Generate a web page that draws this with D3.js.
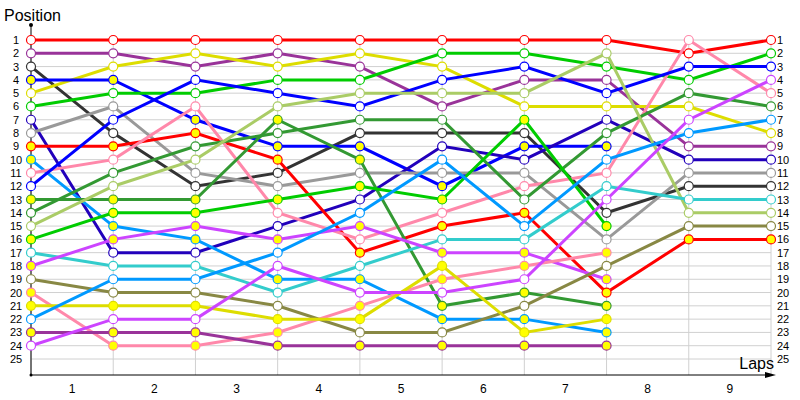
<!DOCTYPE html>
<html>
<head>
<meta charset="utf-8">
<script src="https://cdn.jsdelivr.net/npm/d3@7"></script>
<style>
  body { margin: 0; background: #fff; }
  text { font-family: "Liberation Sans", Arial, sans-serif; }
</style>
</head>
<body>
<div id="chart"></div>
<script>
const width = 800;
const height = 400;

// laps 0..9, positions per lap (null = retired)
const laps = [0, 1, 2, 3, 4, 5, 6, 7, 8, 9];
const lapLabels = ['1', '2', '3', '4', '5', '6', '7', '8', '9'];
const positions = d3.range(1, 26);

// each driver: colour, marker fill, positions by lap
const seriesColors = [
    '#ff0000', '#993399', '#333333', '#dddd00', '#0000ff', '#00cc00', '#2200bb', '#999999',
    '#ff0000', '#0099ff', '#ff88aa', '#0000ff', '#339933', '#339933', '#aacc66', '#00cc00',
    '#33cccc', '#cc44ff', '#888844', '#ff88aa', '#dddd00', '#0099ff', '#993399', '#cc44ff'
];
const seriesFills = [
    'w', 'w', 'w', 'w', 'y', 'w', 'w', 'w',
    'y', 'y', 'w', 'w', 'y', 'w', 'w', 'y',
    'w', 'y', 'w', 'y', 'y', 'w', 'y', 'w'
];
const seriesPositions = [
    [1, 1, 1, 1, 1, 1, 1, 1, 2, 1],
    [2, 2, 3, 2, 3, 6, 4, 4, 9, 9],
    [3, 8, 12, 11, 8, 8, 8, 14, 12, 12],
    [5, 3, 2, 3, 2, 3, 6, 6, 6, 8],
    [4, 4, 7, 9, 9, 12, 9, 9],
    [6, 5, 5, 4, 4, 2, 2, 3, 4, 2],
    [7, 17, 17, 15, 13, 9, 10, 7, 10, 10],
    [8, 6, 11, 12, 11, 11, 11, 16, 11, 11],
    [9, 9, 8, 10, 17, 15, 14, 20, 16, 16],
    [10, 15, 16, 19, 19, 22, 22, 23],
    [11, 10, 6, 14, 16, 14, 12, 11, 1, 5],
    [12, 7, 4, 5, 6, 4, 3, 5, 3, 3],
    [13, 13, 13, 7, 10, 21, 20, 21],
    [14, 11, 9, 8, 7, 7, 13, 8, 5, 6],
    [15, 12, 10, 6, 5, 5, 5, 2, 14, 14],
    [16, 14, 14, 13, 12, 13, 7, 15],
    [17, 18, 18, 20, 18, 16, 16, 12, 13, 13],
    [18, 16, 15, 16, 15, 17, 17, 19],
    [19, 20, 20, 21, 23, 23, 21, 18, 15, 15],
    [20, 24, 24, 23, 21, 19, 18, 17],
    [21, 21, 21, 22, 22, 18, 23, 22],
    [22, 19, 19, 17, 14, 10, 15, 10, 8, 7],
    [23, 23, 23, 24, 24, 24, 24, 24],
    [24, 22, 22, 18, 20, 20, 19, 13, 7, 4]
];

const svg = d3.select('#chart')
    .append('svg')
    .attr('width', width)
    .attr('height', height);

const x = d3.scaleLinear().domain([0, 9]).range([31, 771]);
const y = d3.scaleLinear().domain([1, 25]).range([40, 359]);
const axisY = 375;

// grid
svg.append('g')
    .selectAll('line')
    .data(positions)
    .join('line')
    .attr('x1', x(0)).attr('x2', x(9))
    .attr('y1', d => y(d)).attr('y2', d => y(d))
    .attr('stroke', '#d0d0d0');

svg.append('g')
    .selectAll('line')
    .data(laps)
    .join('line')
    .attr('x1', d => x(d)).attr('x2', d => x(d))
    .attr('y1', y(1)).attr('y2', axisY)
    .attr('stroke', '#d0d0d0');

// axes
svg.append('line')
    .attr('x1', x(0)).attr('x2', x(0))
    .attr('y1', 25).attr('y2', axisY)
    .attr('stroke', '#000');
svg.append('circle')
    .attr('cx', x(0)).attr('cy', 25).attr('r', 2)
    .attr('fill', '#000');
svg.append('line')
    .attr('x1', x(0)).attr('x2', 768)
    .attr('y1', axisY).attr('y2', axisY)
    .attr('stroke', '#000');
svg.append('path')
    .attr('d', `M765,${axisY - 3} L776,${axisY} L765,${axisY + 3} Z`)
    .attr('fill', '#000');
svg.append('circle')
    .attr('cx', x(0)).attr('cy', axisY).attr('r', 1.5)
    .attr('fill', '#000');

// tick labels
svg.append('g')
    .selectAll('text')
    .data(positions)
    .join('text')
    .attr('x', 16)
    .attr('y', d => y(d) + 4)
    .attr('text-anchor', 'middle')
    .style('font-size', '11px')
    .text(d => d);

svg.append('g')
    .selectAll('text')
    .data(positions)
    .join('text')
    .attr('x', 777)
    .attr('y', d => y(d) + 4)
    .style('font-size', '11px')
    .text(d => d);

svg.append('g')
    .selectAll('text')
    .data(lapLabels)
    .join('text')
    .attr('x', (d, i) => x(i + 0.5))
    .attr('y', 393)
    .attr('text-anchor', 'middle')
    .style('font-size', '12px')
    .text(d => d);

svg.append('text')
    .attr('x', 4)
    .attr('y', 21)
    .style('font-size', '16px')
    .text('Position');

svg.append('text')
    .attr('x', 774)
    .attr('y', 369)
    .attr('text-anchor', 'end')
    .style('font-size', '16px')
    .text('Laps');

// series
const line = d3.line()
    .x((d, i) => x(i))
    .y(d => y(d));

seriesPositions.forEach((pos, k) => {
    const g = svg.append('g');
    g.append('path')
        .attr('d', line(pos))
        .attr('fill', 'none')
        .attr('stroke', seriesColors[k])
        .attr('stroke-width', 3);
    g.selectAll('circle')
        .data(pos)
        .join('circle')
        .attr('cx', (d, i) => x(i))
        .attr('cy', d => y(d))
        .attr('r', 4.5)
        .attr('fill', seriesFills[k] === 'y' ? '#ffff00' : '#ffffff')
        .attr('stroke', seriesColors[k])
        .attr('stroke-width', 1.2);
});
</script>
</body>
</html>
